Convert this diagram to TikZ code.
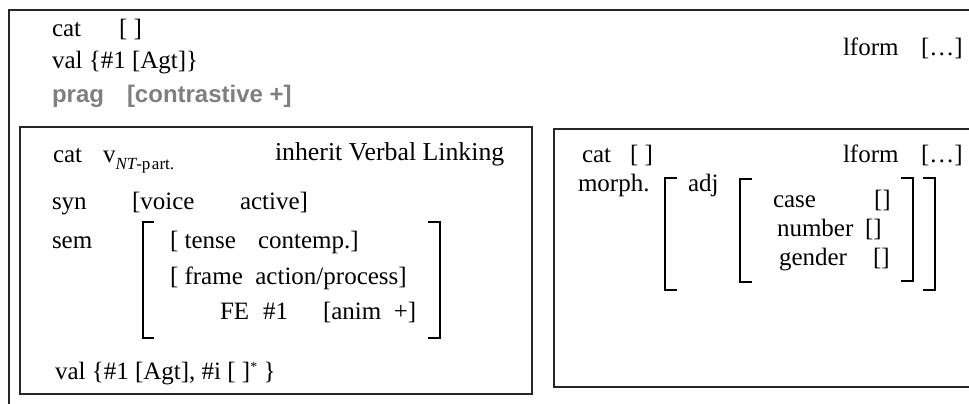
\documentclass[tikz,border=0pt]{standalone}
\usepackage{fontspec}
\setmainfont{Liberation Serif}
\newfontfamily\pragfont{Liberation Sans}
\definecolor{praggray}{HTML}{7F7F7F}
\begin{document}
\begin{tikzpicture}[x=1pt,y=-1pt,
  txt/.style={anchor=base west,inner sep=0pt,outer sep=0pt,font=\fontsize{25}{30}\selectfont},
  grey/.style={anchor=base west,inner sep=0pt,outer sep=0pt,text=praggray,font=\pragfont\bfseries\fontsize{24}{28}\selectfont},
  frame/.style={line width=2pt,black!85},
  brack/.style={line width=1.5pt,black}]
\useasboundingbox (0,0) rectangle (969,404);
\clip (0,0) rectangle (969,404);
% outer frame
\draw[frame] (9,10) rectangle (1000,430);
% top texts
\node[txt] (tcat) at (52,37) {cat};
\node[txt] (tcatv) at (119,37) {[ ]};
\node[txt] (tval) at (52,69) {val \{\#1 [Agt]\}};
\node[grey] (tprag) at (52,102) {prag};
\node[grey] (tpragv) at (127,102) {[contrastive +]};
\node[txt] (tlform) at (843,56) {lform};
\node[txt] (tlformv) at (921,56) {[…]};
% left inner box
\draw[frame] (20,127) rectangle (532,394);
\node[txt] (lcat) at (53,162) {cat};
\node[txt] (lv) at (103,162) {v\raisebox{-7pt}{\fontsize{17}{20}\selectfont\itshape NT\upshape -p\kern1.5pt art.}};
\node[txt] (linh) at (275,160) {\fontsize{25.8}{30}\selectfont inherit Verbal Linking};
\node[txt] (lsyn) at (52,209) {syn};
\node[txt] (lvoice) at (132,209) {[voice};
\node[txt] (lactive) at (240,209) {active]};
\node[txt] (lsem) at (52,248) {sem};
\node[txt] (ltense) at (170,248) {[ tense};
\node[txt] (lcont) at (258,248) {contemp.]};
\node[txt] (lframe) at (170,284) {[ frame\ \ action/process]};
\node[txt] (lfe) at (220,319) {FE};
\node[txt] (lnum) at (263,319) {\#1};
\node[txt] (lanim) at (323,319) {[anim\ \ +]};
\node[txt] (lval) at (55,379) {val \{\#1 [Agt], \#i [ ]\raisebox{8pt}{\fontsize{14}{14}\selectfont *} \}};
\draw[brack] (154,222) -- (143,222) -- (143,338) -- (154,338);
\draw[brack] (428,222) -- (440,222) -- (440,338) -- (428,338);
% right box
\draw[frame] (554,129) rectangle (1000,387);
\node[txt] (rcat) at (582,162) {cat};
\node[txt] (rcatv) at (630,162) {[ ]};
\node[txt] (rlform) at (843,162) {lform};
\node[txt] (rlformv) at (921,162) {[…]};
\node[txt] (rmorph) at (578,191) {morph.};
\node[txt] (radj) at (688,191) {adj};
\node[txt] (rcase) at (773,207) {case};
\node[txt] (rcasev) at (874,207) {[]};
\node[txt] (rnumber) at (777,236) {number};
\node[txt] (rnumberv) at (865,236) {[]};
\node[txt] (rgender) at (779,265) {gender};
\node[txt] (rgenderv) at (873,265) {[]};
\draw[brack] (677,178) -- (665,178) -- (665,290) -- (677,290);
\draw[brack] (923,178) -- (935,178) -- (935,290) -- (923,290);
\draw[brack] (752,179) -- (740,179) -- (740,282) -- (752,282);
\draw[brack] (901,178) -- (913,178) -- (913,281) -- (901,281);
\end{tikzpicture}
\end{document}
